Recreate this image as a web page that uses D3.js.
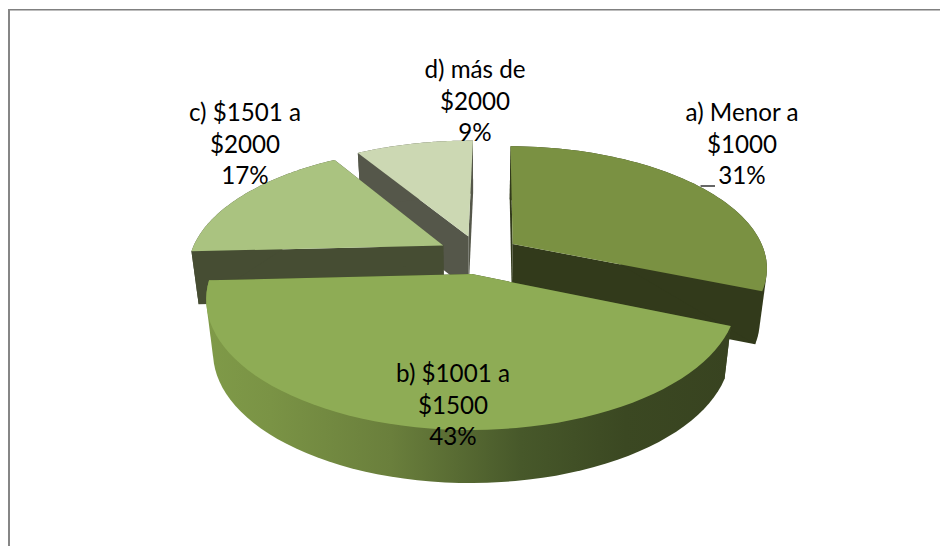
<!DOCTYPE html>
<html><head><meta charset="utf-8">
<script src="https://cdn.jsdelivr.net/npm/d3@7"></script>
<style>html,body{margin:0;padding:0;background:#fff}svg{display:block}text{font-family:Lato,"Open Sans",sans-serif;font-size:24.2px;fill:#000}</style>
</head><body><svg id="c" width="940" height="546"></svg>
<script>
const categories = ["a) Menor a $1000","b) $1001 a $1500","c) $1501 a $2000","d) más de $2000"];
const labelLines = [["a) Menor a","$1000","31%"],["b) $1001 a","$1500","43%"],["c) $1501 a","$2000","17%"],["d) más de","$2000","9%"]];
const values = [31,43,17,9];
const topColors = ["#7A9142","#8EAC55","#AAC380","#CCD8B3"];
const sideColors = ["#323A1B","#3A4621","#464D33","#55574A"];
const labelPos = [[742,113],[453,374],[245,113],[475,70]];
const drawOrder = [3,2,0,1];

const W=940,H=546;
const svg=d3.select("#c");
const cx=479, cy=254.5, rx=253, ry=119.3, persp=0.1826, explode=0.162, depth=53, shrink=0.975;
const rotation=0.8*Math.PI/180;

svg.append("line").attr("x1",8).attr("x2",W).attr("y1",9.5).attr("y2",9.5).attr("stroke","#808080").attr("stroke-width",1);
svg.append("line").attr("x1",10).attr("x2",W).attr("y1",10.5).attr("y2",10.5).attr("stroke","#bdbdbd").attr("stroke-width",1);
svg.append("line").attr("x1",9).attr("x2",9).attr("y1",9).attr("y2",H).attr("stroke","#868686").attr("stroke-width",2);

const arcs=d3.pie().sort(null).value(d=>d).startAngle(rotation).endAngle(2*Math.PI+rotation)(values);
const sx=d3.scaleLinear().domain([-1,1]).range([cx-rx,cx+rx]);
const sy=d3.scaleLinear().domain([-1,1]).range([cy-ry,cy+ry]);
const project=(u,v)=>{const w=1-persp*v;return [sx(u/w),sy(v/w)];};
const down=p=>[cx+(p[0]-cx)*shrink,p[1]+depth];
const line=d3.line();

const defs=svg.append("defs");
const g=defs.append("linearGradient").attr("id","wall").attr("gradientUnits","userSpaceOnUse")
  .attr("x1",208).attr("x2",730).attr("y1",0).attr("y2",0);
[[0,"#7F9A48"],[0.12,"#7A9345"],[0.35,"#6A7F3C"],[0.6,"#47582A"],[0.8,"#3B4822"],[1,"#384320"]]
  .forEach(s=>g.append("stop").attr("offset",s[0]).attr("stop-color",s[1]));

drawOrder.forEach(i=>{
  const a=arcs[i], mid=(a.startAngle+a.endAngle)/2;
  const ox=explode*Math.sin(mid), oy=-explode*Math.cos(mid);
  const pt=t=>project(ox+Math.sin(t),oy-Math.cos(t));
  const apex=project(ox,oy);
  const ts=d3.range(0,61).map(k=>a.startAngle+(a.endAngle-a.startAngle)*k/60);
  const rim=ts.map(pt);
  const wallFill=i===1?"url(#wall)":sideColors[i];
  const group=svg.append("g").attr("class","slice");
  const face=(p,fill)=>group.append("path")
    .attr("d",line([apex,p,down(p),down(apex)])+"Z").attr("fill",fill);
  face(rim[0],sideColors[i]);
  face(rim[60],sideColors[i]);
  group.append("path").attr("d",line(d3.polygonHull(rim.concat(rim.map(down))))+"Z").attr("fill",wallFill);
  group.append("path").attr("d",line([apex].concat(rim))+"Z").attr("fill",topColors[i]);
});

// leader line of the first label
svg.append("line").attr("x1",700.5).attr("x2",715).attr("y1",186).attr("y2",186)
  .attr("stroke","#000").attr("stroke-width",1.2);

labelLines.forEach((ls,i)=>{
  const t=svg.append("text").attr("text-anchor","middle");
  ls.forEach((s,k)=>t.append("tspan").attr("x",labelPos[i][0]).attr("y",labelPos[i][1]+k*31.7+8).text(s));
});
</script></body></html>
